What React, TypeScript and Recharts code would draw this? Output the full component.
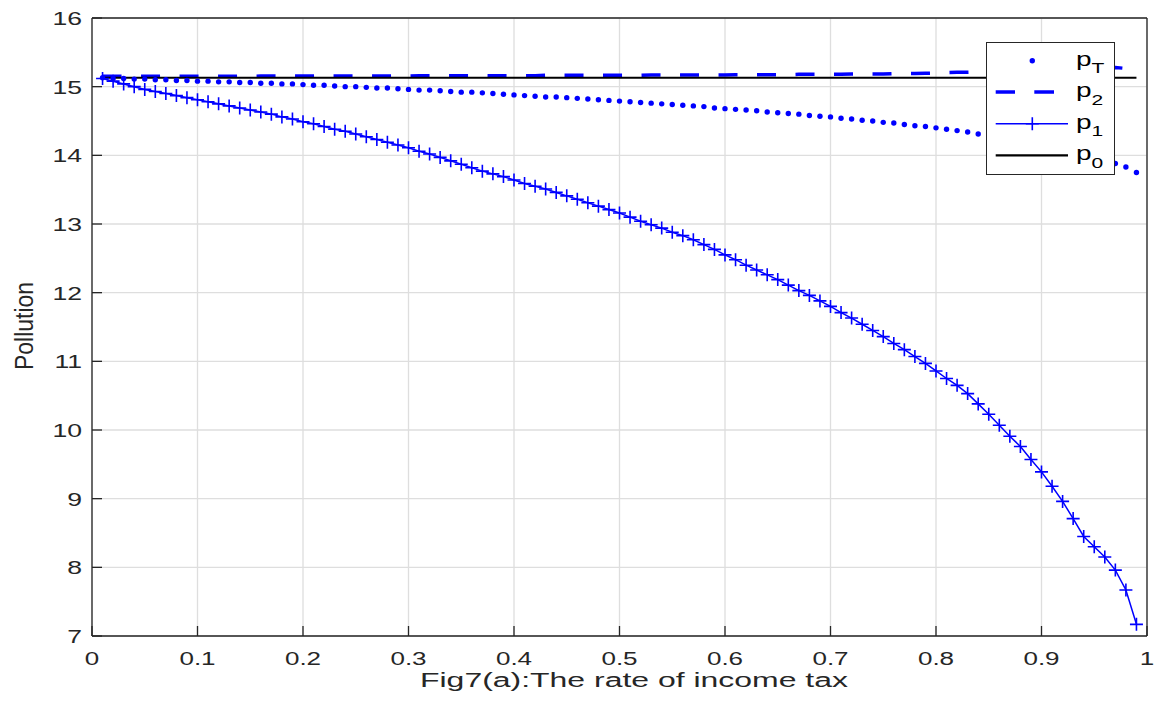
import { LineChart, Line, XAxis, YAxis, CartesianGrid, Legend } from "recharts";

// tax rate on the x axis, 0.01 .. 0.99
const RATE = [
  0.01, 0.02, 0.03, 0.04, 0.05, 0.06, 0.07, 0.08, 0.09, 0.1,
  0.11, 0.12, 0.13, 0.14, 0.15, 0.16, 0.17, 0.18, 0.19, 0.2,
  0.21, 0.22, 0.23, 0.24, 0.25, 0.26, 0.27, 0.28, 0.29, 0.3,
  0.31, 0.32, 0.33, 0.34, 0.35, 0.36, 0.37, 0.38, 0.39, 0.4,
  0.41, 0.42, 0.43, 0.44, 0.45, 0.46, 0.47, 0.48, 0.49, 0.5,
  0.51, 0.52, 0.53, 0.54, 0.55, 0.56, 0.57, 0.58, 0.59, 0.6,
  0.61, 0.62, 0.63, 0.64, 0.65, 0.66, 0.67, 0.68, 0.69, 0.7,
  0.71, 0.72, 0.73, 0.74, 0.75, 0.76, 0.77, 0.78, 0.79, 0.8,
  0.81, 0.82, 0.83, 0.84, 0.85, 0.86, 0.87, 0.88, 0.89, 0.9,
  0.91, 0.92, 0.93, 0.94, 0.95, 0.96, 0.97, 0.98, 0.99,
];

const P_T = [
  15.13, 15.12, 15.12, 15.11, 15.11, 15.10, 15.10, 15.09, 15.09, 15.08,
  15.08, 15.07, 15.07, 15.06, 15.06, 15.05, 15.05, 15.04, 15.04, 15.03,
  15.02, 15.02, 15.01, 15.00, 15.00, 14.99, 14.98, 14.98, 14.97, 14.96,
  14.95, 14.95, 14.94, 14.93, 14.92, 14.92, 14.91, 14.90, 14.89, 14.88,
  14.87, 14.86, 14.85, 14.85, 14.84, 14.83, 14.82, 14.81, 14.80, 14.79,
  14.78, 14.77, 14.76, 14.75, 14.74, 14.73, 14.72, 14.71, 14.69, 14.68,
  14.67, 14.66, 14.65, 14.63, 14.62, 14.61, 14.60, 14.58, 14.57, 14.56,
  14.54, 14.53, 14.51, 14.50, 14.48, 14.47, 14.45, 14.43, 14.42, 14.40,
  14.38, 14.36, 14.34, 14.31, 14.29, 14.27, 14.24, 14.22, 14.19, 14.16,
  14.13, 14.10, 14.06, 14.03, 13.99, 13.94, 13.88, 13.83, 13.75,
];

const P_2 = [
  15.15, 15.15, 15.15, 15.15, 15.15, 15.15, 15.15, 15.15, 15.15, 15.15,
  15.15, 15.15, 15.15, 15.15, 15.15, 15.155, 15.155, 15.155, 15.155, 15.155,
  15.155, 15.155, 15.155, 15.155, 15.155, 15.155, 15.155, 15.155, 15.155, 15.155,
  15.16, 15.16, 15.16, 15.16, 15.16, 15.16, 15.16, 15.16, 15.16, 15.16,
  15.16, 15.16, 15.165, 15.165, 15.165, 15.165, 15.165, 15.165, 15.165, 15.165,
  15.165, 15.165, 15.17, 15.17, 15.17, 15.17, 15.17, 15.17, 15.17, 15.17,
  15.175, 15.175, 15.175, 15.175, 15.175, 15.175, 15.18, 15.18, 15.18, 15.18,
  15.18, 15.185, 15.185, 15.185, 15.185, 15.19, 15.19, 15.19, 15.195, 15.2,
  15.205, 15.21, 15.21, 15.215, 15.22, 15.225, 15.23, 15.235, 15.24, 15.245,
  15.25, 15.255, 15.26, 15.265, 15.27, 15.275, 15.28, 15.265, 15.23,
];

const P_1 = [
  15.12, 15.08, 15.04, 15.00, 14.96, 14.93, 14.90, 14.87, 14.84, 14.81,
  14.78, 14.75, 14.72, 14.69, 14.66, 14.63, 14.60, 14.56, 14.53, 14.49,
  14.46, 14.42, 14.38, 14.35, 14.31, 14.27, 14.23, 14.19, 14.15, 14.11,
  14.06, 14.02, 13.97, 13.92, 13.87, 13.82, 13.77, 13.73, 13.69, 13.64,
  13.59, 13.55, 13.51, 13.46, 13.41, 13.36, 13.31, 13.26, 13.21, 13.16,
  13.10, 13.04, 12.99, 12.94, 12.88, 12.83, 12.77, 12.70, 12.63, 12.55,
  12.48, 12.40, 12.33, 12.26, 12.19, 12.11, 12.03, 11.96, 11.88, 11.80,
  11.71, 11.63, 11.54, 11.45, 11.36, 11.26, 11.17, 11.07, 10.97, 10.86,
  10.75, 10.65, 10.53, 10.38, 10.23, 10.07, 9.91, 9.76, 9.57, 9.39,
  9.18, 8.96, 8.71, 8.45, 8.30, 8.15, 7.96, 7.67, 7.17,
];

const P_0 = [
  15.13, 15.13, 15.13, 15.13, 15.13, 15.13, 15.13, 15.13, 15.13, 15.13,
  15.13, 15.13, 15.13, 15.13, 15.13, 15.13, 15.13, 15.13, 15.13, 15.13,
  15.13, 15.13, 15.13, 15.13, 15.13, 15.13, 15.13, 15.13, 15.13, 15.13,
  15.13, 15.13, 15.13, 15.13, 15.13, 15.13, 15.13, 15.13, 15.13, 15.13,
  15.13, 15.13, 15.13, 15.13, 15.13, 15.13, 15.13, 15.13, 15.13, 15.13,
  15.13, 15.13, 15.13, 15.13, 15.13, 15.13, 15.13, 15.13, 15.13, 15.13,
  15.13, 15.13, 15.13, 15.13, 15.13, 15.13, 15.13, 15.13, 15.13, 15.13,
  15.13, 15.13, 15.13, 15.13, 15.13, 15.13, 15.13, 15.13, 15.13, 15.13,
  15.13, 15.13, 15.13, 15.13, 15.13, 15.13, 15.13, 15.13, 15.13, 15.13,
  15.13, 15.13, 15.13, 15.13, 15.13, 15.13, 15.13, 15.13, 15.13,
];

const X_TICKS = [0, 0.1, 0.2, 0.3, 0.4, 0.5, 0.6, 0.7, 0.8, 0.9, 1];
const Y_TICKS = [7, 8, 9, 10, 11, 12, 13, 14, 15, 16];

const data = RATE.map((x, i) => ({ x, pT: P_T[i], p2: P_2[i], p1: P_1[i], p0: P_0[i] }));

const FONT = '"Liberation Sans", Arial, Helvetica, sans-serif';
const INK = "#262626";
const BLUE = "#0000ff";

function XTick({ x, y, payload }: any) {
  return (
    <text transform={`translate(${x},${y + 16.5}) scale(1.37,1)`} textAnchor="middle" fontSize={19} fill={INK} fontFamily={FONT}>
      {payload.value}
    </text>
  );
}

function YTick({ x, y, payload }: any) {
  return (
    <text transform={`translate(${x},${y + 7}) scale(1.4,1)`} textAnchor="end" fontSize={19} fill={INK} fontFamily={FONT}>
      {payload.value}
    </text>
  );
}

function XLabel() {
  return (
    <text x={626} y={678.5} textAnchor="middle" fontSize={19.5} fill={INK} fontFamily={FONT} textLength={428} lengthAdjust="spacingAndGlyphs">
      Fig7(a):The rate of income tax
    </text>
  );
}

function YLabel() {
  return (
    <text transform="translate(24.5,318) rotate(-90)" textAnchor="middle" fontSize={25} fill={INK} fontFamily={FONT} textLength={88} lengthAdjust="spacingAndGlyphs">
      Pollution
    </text>
  );
}

function PlusDot({ cx, cy, index }: any) {
  return <path key={`plus-${index}`} d={`M${cx - 6.5},${cy}h13M${cx},${cy - 6.5}v13`} stroke={BLUE} strokeWidth={1.6} fill="none" />;
}

function LegendBox() {
  const rows = [
    { sub: "T", y: 18.7 },
    { sub: "2", y: 50 },
    { sub: "1", y: 81.7 },
    { sub: "0", y: 113.3 },
  ];
  return (
    <svg width={130} height={134} style={{ display: "block" }}>
      <rect x={0.5} y={0.5} width={128} height={132} fill="#fff" stroke={INK} strokeWidth={1} />
      <circle cx={46.3} cy={rows[0].y} r={2.7} fill={BLUE} />
      <line x1={9.7} x2={29} y1={rows[1].y} y2={rows[1].y} stroke={BLUE} strokeWidth={3.5} />
      <line x1={48.3} x2={68} y1={rows[1].y} y2={rows[1].y} stroke={BLUE} strokeWidth={3.5} />
      <line x1={9.7} x2={82} y1={rows[2].y} y2={rows[2].y} stroke={BLUE} strokeWidth={1.5} />
      <path d={`M${46.3 - 6.5},${rows[2].y}h13M46.3,${rows[2].y - 6.5}v13`} stroke={BLUE} strokeWidth={1.6} />
      <line x1={9.7} x2={82} y1={rows[3].y} y2={rows[3].y} stroke="#000" strokeWidth={2.2} />
      {rows.map((r) => (
        <text key={r.sub} transform={`translate(90,${r.y + 5}) scale(1.4,1)`} fontSize={20} fill="#000" fontFamily={FONT}>
          p
          <tspan dy={7.5} fontSize={15}>
            {r.sub}
          </tspan>
        </text>
      ))}
    </svg>
  );
}

export default function App() {
  return (
    <div style={{ width: 1156, height: 694, background: "#fff" }}>
      <LineChart width={1156} height={694} data={data} margin={{ top: 5, right: 7, bottom: 36, left: 24 }}>
        <CartesianGrid stroke="#dedede" strokeWidth={1.3} />
        <XAxis
          dataKey="x"
          type="number"
          domain={[0, 1]}
          ticks={X_TICKS}
          interval={0}
          height={30}
          tickSize={-10}
          tickMargin={22}
          tick={<XTick />}
          axisLine={{ stroke: INK, strokeWidth: 1.3 }}
          tickLine={{ stroke: INK, strokeWidth: 1.3 }}
          label={<XLabel />}
        />
        <XAxis
          xAxisId="top"
          orientation="top"
          type="number"
          domain={[0, 1]}
          allowDataOverflow
          ticks={X_TICKS}
          interval={0}
          height={5}
          tickSize={-10}
          tick={false}
          axisLine={{ stroke: INK, strokeWidth: 1.3 }}
          tickLine={{ stroke: INK, strokeWidth: 1.3 }}
        />
        <YAxis
          type="number"
          domain={[7, 16]}
          ticks={Y_TICKS}
          interval={0}
          width={60}
          tickSize={-10}
          tickMargin={20}
          tick={<YTick />}
          axisLine={{ stroke: INK, strokeWidth: 1.3 }}
          tickLine={{ stroke: INK, strokeWidth: 1.3 }}
          label={<YLabel />}
        />
        <YAxis
          yAxisId="right"
          orientation="right"
          type="number"
          domain={[7, 16]}
          allowDataOverflow
          ticks={Y_TICKS}
          interval={0}
          width={10}
          tickSize={-10}
          tick={false}
          axisLine={{ stroke: INK, strokeWidth: 1.3 }}
          tickLine={{ stroke: INK, strokeWidth: 1.3 }}
        />
        <Line dataKey="pT" stroke="none" strokeWidth={0} dot={{ r: 2.7, fill: BLUE, stroke: "none" }} activeDot={false} isAnimationActive={false} />
        <Line dataKey="p2" stroke={BLUE} strokeWidth={3.5} strokeDasharray="19 19.5" dot={false} activeDot={false} isAnimationActive={false} />
        <Line dataKey="p1" stroke={BLUE} strokeWidth={1.5} dot={<PlusDot />} activeDot={false} isAnimationActive={false} />
        <Line dataKey="p0" stroke="#000" strokeWidth={2.2} dot={false} activeDot={false} isAnimationActive={false} />
        <Legend
          layout="vertical"
          align="center"
          verticalAlign="middle"
          content={() => <LegendBox />}
          wrapperStyle={{ left: 978, top: 34, width: 130, height: 134, right: "auto", bottom: "auto" }}
        />
      </LineChart>
    </div>
  );
}
